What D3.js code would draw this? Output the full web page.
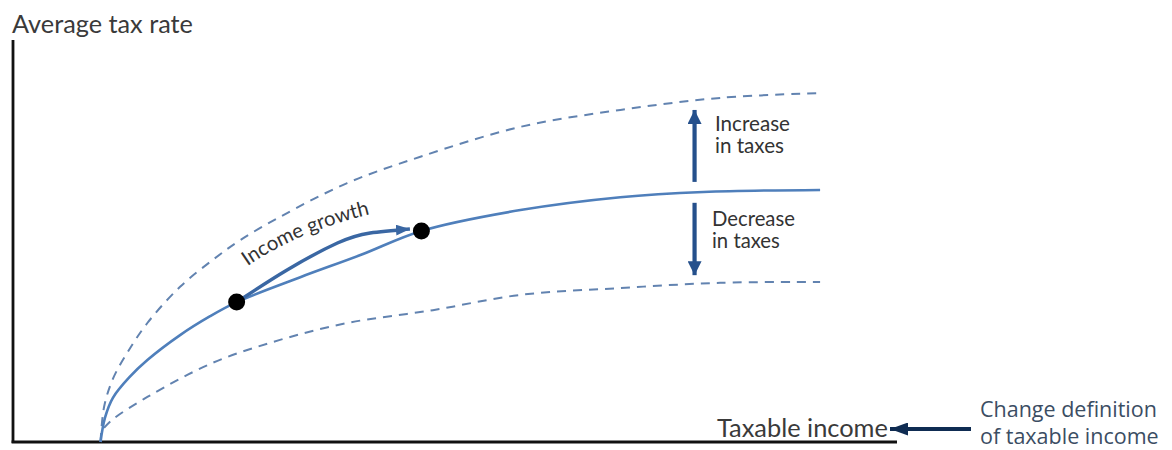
<!DOCTYPE html>
<html>
<head>
<meta charset="utf-8">
<script src="https://cdn.jsdelivr.net/npm/d3@7"></script>
<style>
  html, body { margin: 0; padding: 0; background: #ffffff; }
  svg { display: block; }
</style>
</head>
<body>
<svg id="chart" width="1172" height="450"></svg>
<script>
// ---------- Data (arbitrary units 0..100) ----------
const currentIncome = [9.9, 10.4, 11.3, 13.2, 15.2, 18.9, 22.3, 25.3, 32.5, 39.3, 46.2, 57.4, 68.7, 78.1, 91.3];
const currentRate   = [0.0, 6.0, 11.0, 16.2, 20.4, 26.6, 31.3, 34.8, 41.0, 46.5, 52.5, 57.7, 60.9, 62.2, 62.7];

const higherIncome  = [9.9, 10.3, 11.3, 12.9, 15.2, 18.9, 22.6, 25.7, 30.2, 37.8, 46.0, 57.4, 68.7, 80.0, 91.3];
const higherRate    = [0.0, 8.7, 15.7, 22.1, 29.6, 38.6, 45.3, 50.2, 56.0, 64.4, 70.9, 78.4, 82.6, 85.6, 86.8];

const lowerIncome   = [10.3, 11.2, 15.2, 22.6, 30.2, 37.8, 47.5, 57.4, 68.7, 80.0, 91.3];
const lowerRate     = [3.5, 5.5, 11.2, 19.7, 25.4, 29.6, 32.8, 36.6, 38.3, 39.6, 39.8];

// income-growth move along the schedule
const growthIncome  = [25.3, 31.0, 36.7, 40.4, 44.9];
const growthRate    = [34.8, 42.8, 49.5, 52.0, 53.0];
const pointIncome   = [25.3, 46.2];
const pointRate     = [34.8, 52.5];

// shift arrows (income position, from-rate, to-rate)
const shiftIncome   = 77.1;
const increaseFromTo = [64.7, 82.6];
const decreaseFromTo = [59.5, 41.5];

const labels = {
  yTitle: "Average tax rate",
  xTitle: "Taxable income",
  increase: ["Increase", "in taxes"],
  decrease: ["Decrease", "in taxes"],
  growth: "Income growth",
  change: ["Change definition", "of taxable income"]
};

// ---------- Setup ----------
const svg = d3.select("#chart");
const x = d3.scaleLinear().domain([0, 100]).range([13, 897]);
const y = d3.scaleLinear().domain([0, 100]).range([442, 40]);
const zip = (a, b) => a.map((v, i) => [v, b[i]]);

const fontMain = "Lato, 'Open Sans', sans-serif";
const fontSide = "'Open Sans', 'Noto Sans', sans-serif";

function fit(sel, target) {
  const w = sel.node().getComputedTextLength();
  const fs = parseFloat(sel.attr("font-size"));
  const nf = fs * target / w;
  sel.attr("font-size", nf);
  return nf;
}

// markers
const defs = svg.append("defs");
function marker(id, color, w, h) {
  defs.append("marker")
    .attr("id", id)
    .attr("viewBox", `0 0 ${w} ${h}`)
    .attr("refX", w).attr("refY", h / 2)
    .attr("markerWidth", w).attr("markerHeight", h)
    .attr("markerUnits", "userSpaceOnUse")
    .attr("orient", "auto")
    .append("path")
    .attr("d", `M0,0 L${w},${h / 2} L0,${h} Z`)
    .attr("fill", color);
}
marker("arrGrowth", "#3a67a3", 14, 11);
marker("arrShift", "#25508c", 14, 14);
marker("arrChange", "#0f2c52", 18, 13);

// ---------- Axes (plain lines, no ticks) ----------
svg.append("line")
  .attr("x1", x(0)).attr("y1", y(100))
  .attr("x2", x(0)).attr("y2", y(0) + 1)
  .attr("stroke", "#111").attr("stroke-width", 2.8);
svg.append("line")
  .attr("x1", x(0) - 1.4).attr("y1", y(0))
  .attr("x2", x(100)).attr("y2", y(0))
  .attr("stroke", "#111").attr("stroke-width", 2.8);

// ---------- Curves ----------
const line = d3.line().x(d => x(d[0])).y(d => y(d[1])).curve(d3.curveCatmullRom.alpha(0.5));

svg.append("path")
  .datum(zip(higherIncome, higherRate))
  .attr("d", line)
  .attr("fill", "none").attr("stroke", "#6283b0").attr("stroke-width", 2)
  .attr("stroke-dasharray", "9,7");

svg.append("path")
  .datum(zip(lowerIncome, lowerRate))
  .attr("d", line)
  .attr("fill", "none").attr("stroke", "#6283b0").attr("stroke-width", 2)
  .attr("stroke-dasharray", "9,7");

svg.append("path")
  .datum(zip(currentIncome, currentRate))
  .attr("d", line)
  .attr("fill", "none").attr("stroke", "#4f7fbb").attr("stroke-width", 2.6);

// income growth arrow
const growthLine = d3.line().x(d => x(d[0])).y(d => y(d[1])).curve(d3.curveNatural);
svg.append("path")
  .datum(zip(growthIncome, growthRate))
  .attr("d", growthLine)
  .attr("fill", "none").attr("stroke", "#3a67a3").attr("stroke-width", 3.4)
  .attr("marker-end", "url(#arrGrowth)");

// points
svg.selectAll("circle.pt")
  .data(zip(pointIncome, pointRate))
  .join("circle")
  .attr("class", "pt")
  .attr("cx", d => x(d[0])).attr("cy", d => y(d[1]))
  .attr("r", 8.5).attr("fill", "#000");

// "Income growth" label along a gentle curve above the arrow
const gx0 = x(growthIncome[0]) + 11, gy0 = y(growthRate[0]) - 36;
defs.append("path").attr("id", "growthTextPath")
  .attr("d", `M${gx0},${gy0} Q${gx0 + 55},${gy0 - 38} ${gx0 + 140},${gy0 - 56}`);
const gt = svg.append("text")
  .attr("font-family", fontMain).attr("font-size", 20).attr("fill", "#333");
gt.append("textPath").attr("href", "#growthTextPath").text(labels.growth);
{
  const w = gt.node().getComputedTextLength();
  gt.attr("font-size", 20 * 134 / w);
}

// ---------- Shift arrows ----------
svg.append("line")
  .attr("x1", x(shiftIncome)).attr("y1", y(increaseFromTo[0]))
  .attr("x2", x(shiftIncome)).attr("y2", y(increaseFromTo[1]))
  .attr("stroke", "#25508c").attr("stroke-width", 4.2)
  .attr("marker-end", "url(#arrShift)");
svg.append("line")
  .attr("x1", x(shiftIncome)).attr("y1", y(decreaseFromTo[0]))
  .attr("x2", x(shiftIncome)).attr("y2", y(decreaseFromTo[1]))
  .attr("stroke", "#25508c").attr("stroke-width", 4.2)
  .attr("marker-end", "url(#arrShift)");

function twoLine(lines, xPos, yBase, gap, targetW, family, color, fs0) {
  const g = svg.append("g");
  const t1 = g.append("text").attr("x", xPos).attr("y", yBase)
    .attr("font-family", family).attr("font-size", fs0).attr("fill", color).text(lines[0]);
  const nf = fit(t1, targetW);
  g.append("text").attr("x", xPos).attr("y", yBase + gap)
    .attr("font-family", family).attr("font-size", nf).attr("fill", color).text(lines[1]);
  return g;
}
twoLine(labels.increase, 715, 131, 22, 75, fontMain, "#333", 20);
twoLine(labels.decrease, 712, 226, 22, 83, fontMain, "#333", 20);

// ---------- Titles ----------
const yt = svg.append("text").attr("x", 12).attr("y", 33)
  .attr("font-family", fontMain).attr("font-size", 20).attr("fill", "#3a3a3a")
  .text(labels.yTitle);
fit(yt, 181);

const xt = svg.append("text").attr("x", 717).attr("y", 437)
  .attr("font-family", fontMain).attr("font-size", 20).attr("fill", "#3a3a3a")
  .text(labels.xTitle);
fit(xt, 171);

// ---------- Change definition annotation ----------
svg.append("line")
  .attr("x1", 971).attr("y1", 429)
  .attr("x2", 890).attr("y2", 429)
  .attr("stroke", "#0f2c52").attr("stroke-width", 4)
  .attr("marker-end", "url(#arrChange)");
twoLine(labels.change, 980, 417, 27, 177, fontSide, "#3b4d63", 20);
</script>
</body>
</html>
